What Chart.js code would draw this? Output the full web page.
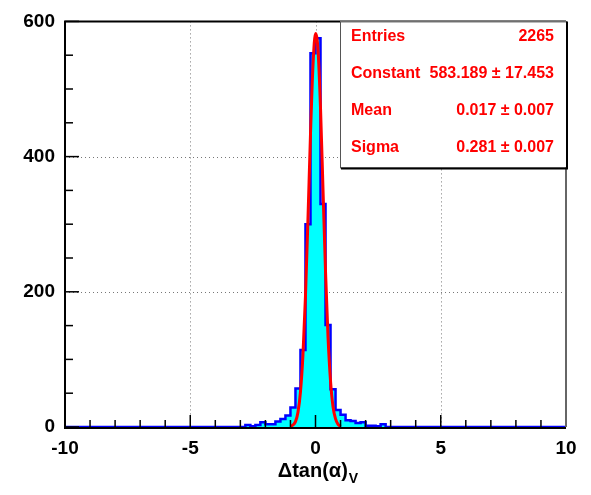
<!DOCTYPE html>
<html>
<head>
<meta charset="utf-8">
<script src="https://cdn.jsdelivr.net/npm/chart.js@4.4.1/dist/chart.umd.min.js"></script>
<style>
  body { margin: 0; background: #fff; }
  canvas { display: block; }
</style>
</head>
<body>
<canvas id="histChart" width="591" height="495"></canvas>
<script>
// histogram: lower edges of the filled bins (width 0.2), everything else is 0
var binLow = [-3.0, -2.8, -2.6, -2.4, -2.2, -2.0, -1.8, -1.6, -1.4, -1.2,
              -1.0, -0.8, -0.6, -0.4, -0.2, 0.0, 0.2, 0.4, 0.6, 0.8,
              1.0, 1.2, 1.4, 1.6, 1.8, 2.0, 2.2, 2.4, 2.6, 2.8];
var counts = [0, 3, 1, 3, 7, 4, 4, 8, 12, 17,
              29, 57, 114, 300, 553, 575, 330, 151, 56, 25,
              18, 10, 9, 6, 7, 2, 2, 1, 4, 0];
var histRange = [-10, 10];

// gaussian fit
var fitX = [-1.0, -0.9, -0.8, -0.7, -0.6, -0.5, -0.4, -0.3, -0.2, -0.1, 0.0,
            0.1, 0.2, 0.3, 0.4, 0.5, 0.6, 0.7, 0.8, 0.9, 1.0];
var fitY = [1, 3, 8, 22, 52, 107, 194, 309, 433, 535, 582,
            558, 472, 351, 230, 133, 68, 30, 12, 4, 1];

var xTicks = [-10, -5, 0, 5, 10];
var yTicks = [0, 200, 400, 600];

var statLabels = ["Entries", "Constant", "Mean", "Sigma"];
var statValues = ["2265", "583.189 \u00b1 17.453", "0.017 \u00b1 0.007", "0.281 \u00b1 0.007"];

var FONT = '"Liberation Sans", Arial, sans-serif';

var histPoints = [{ x: histRange[0], y: 0 }];
for (var i = 0; i < binLow.length; i++) {
    histPoints.push({ x: binLow[i], y: counts[i] });
}
histPoints.push({ x: binLow[binLow.length - 1] + 0.2, y: 0 });
histPoints.push({ x: histRange[1], y: 0 });

var fitPoints = fitX.map(function(x, k) { return { x: x, y: fitY[k] }; });

// ROOT-like frame, inward ticks, dotted grid, axis title and stats box
var rootStyle = {
    id: 'rootStyle',
    beforeDatasetsDraw: function(chart) {
        var ctx = chart.ctx, a = chart.chartArea;
        var xs = chart.scales.x, ys = chart.scales.y;
        ctx.save();
        ctx.strokeStyle = '#777';
        ctx.lineWidth = 1;
        ctx.setLineDash([1, 3]);
        [-5, 0, 5].forEach(function(v) {
            var px = Math.round(xs.getPixelForValue(v)) + 0.5;
            ctx.beginPath(); ctx.moveTo(px, a.top); ctx.lineTo(px, a.bottom); ctx.stroke();
        });
        [200, 400].forEach(function(v) {
            var py = Math.round(ys.getPixelForValue(v)) + 0.5;
            ctx.beginPath(); ctx.moveTo(a.left, py); ctx.lineTo(a.right, py); ctx.stroke();
        });
        ctx.setLineDash([]);
        // bottom axis line sits under the histogram outline
        ctx.strokeStyle = '#000';
        ctx.lineWidth = 2;
        ctx.beginPath(); ctx.moveTo(a.left, a.bottom + 1); ctx.lineTo(a.right, a.bottom + 1); ctx.stroke();
        ctx.restore();
    },
    afterDatasetsDraw: function(chart) {
        var ctx = chart.ctx, a = chart.chartArea;
        var xs = chart.scales.x, ys = chart.scales.y;
        ctx.save();

        // ticks
        ctx.strokeStyle = '#000';
        ctx.lineWidth = 1.5;
        for (var v = -10; v <= 10; v++) {
            var px = xs.getPixelForValue(v);
            var len = (v % 5 === 0) ? 12 : 7;
            ctx.beginPath(); ctx.moveTo(px, a.bottom); ctx.lineTo(px, a.bottom - len); ctx.stroke();
        }
        for (var w = 0; w <= 600; w += 50) {
            var py = ys.getPixelForValue(w);
            var l2 = (w % 200 === 0) ? 14 : 8;
            ctx.beginPath(); ctx.moveTo(a.left, py); ctx.lineTo(a.left + l2, py); ctx.stroke();
        }

        // frame
        ctx.lineWidth = 2;
        ctx.strokeStyle = '#000';
        ctx.beginPath();
        ctx.moveTo(a.left, a.bottom + 2); ctx.lineTo(a.left, a.top); ctx.lineTo(a.right, a.top);
        ctx.stroke();
        ctx.strokeStyle = '#666';
        ctx.beginPath(); ctx.moveTo(a.right, a.top); ctx.lineTo(a.right, a.bottom); ctx.stroke();

        // axis title with subscript
        ctx.fillStyle = '#000';
        ctx.textBaseline = 'alphabetic';
        ctx.textAlign = 'left';
        var main = '\u0394tan(\u03b1)';
        ctx.font = 'bold 20px ' + FONT;
        var wMain = ctx.measureText(main).width;
        ctx.font = 'bold 14px ' + FONT;
        var wSub = ctx.measureText('V').width;
        var x0 = (a.left + a.right) / 2 + 2 - (wMain + wSub) / 2;
        ctx.font = 'bold 20px ' + FONT;
        ctx.fillText(main, x0, 477);
        ctx.font = 'bold 14px ' + FONT;
        ctx.fillText('V', x0 + wMain + 1, 483);

        // stats box
        var bx = 340, by = a.top, bw = a.right - 340, bh = 146;
        ctx.fillStyle = '#fff';
        ctx.fillRect(bx, by, bw, bh);
        ctx.strokeStyle = '#555';
        ctx.lineWidth = 1;
        ctx.strokeRect(bx + 0.5, by + 0.5, bw, bh);
        ctx.strokeStyle = '#000';
        ctx.lineWidth = 2;
        ctx.beginPath();
        ctx.moveTo(bx + 1, by + bh + 1); ctx.lineTo(bx + bw + 1, by + bh + 1); ctx.lineTo(bx + bw + 1, by);
        ctx.stroke();

        ctx.fillStyle = '#ff0000';
        ctx.font = 'bold 16px ' + FONT;
        for (var k = 0; k < statLabels.length; k++) {
            var base = 41 + k * 37;
            ctx.textAlign = 'left';
            ctx.fillText(statLabels[k], 351, base);
            ctx.textAlign = 'right';
            ctx.fillText(statValues[k], 554, base);
        }
        ctx.restore();
    }
};

document.addEventListener("DOMContentLoaded", function() {
    var ctx = document.getElementById("histChart");
    var tickFont = { family: FONT, size: 19, weight: 'bold' };

    new Chart(ctx, {
        type: 'line',
        data: {
            datasets: [{
                label: 'hist',
                data: histPoints,
                order: 2,
                stepped: 'before',
                fill: 'origin',
                backgroundColor: '#00ffff',
                borderColor: '#0000ff',
                borderWidth: 2.5,
                pointRadius: 0
            }, {
                label: 'fit',
                data: fitPoints,
                order: 1,
                fill: false,
                cubicInterpolationMode: 'monotone',
                borderColor: '#ff0000',
                borderWidth: 3,
                pointRadius: 0
            }]
        },
        options: {
            responsive: false,
            animation: false,
            devicePixelRatio: 1,
            layout: { padding: { left: 0, right: 25, top: 18, bottom: 0 } },
            plugins: {
                legend: { display: false },
                tooltip: { enabled: false }
            },
            scales: {
                x: {
                    type: 'linear',
                    min: histRange[0],
                    max: histRange[1],
                    afterBuildTicks: function(s) { s.ticks = xTicks.map(function(v) { return { value: v }; }); },
                    afterFit: function(s) { s.height = 68; },
                    grid: { display: false, drawTicks: false },
                    border: { display: false },
                    ticks: { font: tickFont, color: '#000', padding: 10, maxRotation: 0, autoSkip: false }
                },
                y: {
                    min: 0,
                    max: 600,
                    afterBuildTicks: function(s) { s.ticks = yTicks.map(function(v) { return { value: v }; }); },
                    afterFit: function(s) { s.width = 65; },
                    grid: { display: false, drawTicks: false },
                    border: { display: false },
                    ticks: { font: tickFont, color: '#000', padding: 10 }
                }
            }
        },
        plugins: [rootStyle]
    });
});
</script>
</body>
</html>
